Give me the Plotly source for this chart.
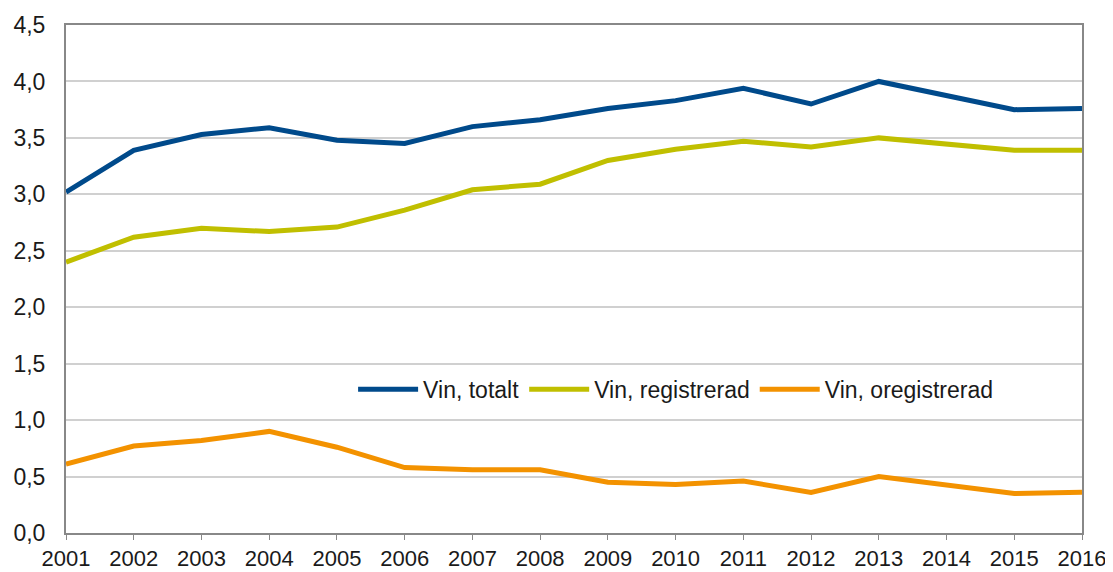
import plotly.graph_objects as go

years = list(range(2001, 2017))
vin_totalt = [3.02, 3.39, 3.53, 3.59, 3.48, 3.45, 3.60, 3.66, 3.76, 3.83, 3.94, 3.80, 4.00, 3.88, 3.75, 3.76]
vin_registrerad = [2.40, 2.62, 2.70, 2.67, 2.71, 2.86, 3.04, 3.09, 3.30, 3.40, 3.47, 3.42, 3.50, 3.45, 3.39, 3.39]
vin_oregistrerad = [0.61, 0.77, 0.82, 0.90, 0.76, 0.58, 0.56, 0.56, 0.45, 0.43, 0.46, 0.36, 0.50, 0.42, 0.35, 0.36]

series = [
    ("Vin, totalt", vin_totalt, "#004A8B"),
    ("Vin, registrerad", vin_registrerad, "#C0BF00"),
    ("Vin, oregistrerad", vin_oregistrerad, "#F39200"),
]

fig = go.Figure()
for name, vals, col in series:
    fig.add_trace(go.Scatter(x=years, y=vals, name=name, mode="lines",
                             line=dict(color=col, width=5)))

# page body has an 8px margin, so the figure is offset by 8px
fig.update_layout(
    width=1105, height=564,
    margin=dict(l=58, r=31, t=17, b=39, autoexpand=False),
    paper_bgcolor="white", plot_bgcolor="white",
    font=dict(family="Liberation Sans, Arial, sans-serif", size=22, color="#1a1a1a"),
    separators=", ",
    showlegend=True,
    legend=dict(orientation="h", x=0.60, xanchor="center", y=0.283, yanchor="middle",
                bgcolor="rgba(0,0,0,0)", font=dict(size=23), itemwidth=60,
                tracegroupgap=0),
    xaxis=dict(range=[2001, 2016], tickmode="array", tickvals=years,
               ticktext=[str(y) for y in years], ticks="outside", ticklen=5,
               tickcolor="#888888", showline=True, linecolor="#888888", linewidth=2,
               mirror=True, showgrid=False, zeroline=False, fixedrange=True,
               automargin=False, tickfont=dict(size=22)),
    yaxis=dict(range=[0, 4.5], dtick=0.5, tickformat=".1f", showline=True,
               linecolor="#888888", linewidth=2, mirror=True, showgrid=True,
               gridcolor="#D0D0D0", gridwidth=1.5, zeroline=False, ticks="",
               ticklen=0, fixedrange=True, automargin=False, ticklabelstandoff=14,
               tickfont=dict(size=23)),
)

fig.write_html("out.html")
